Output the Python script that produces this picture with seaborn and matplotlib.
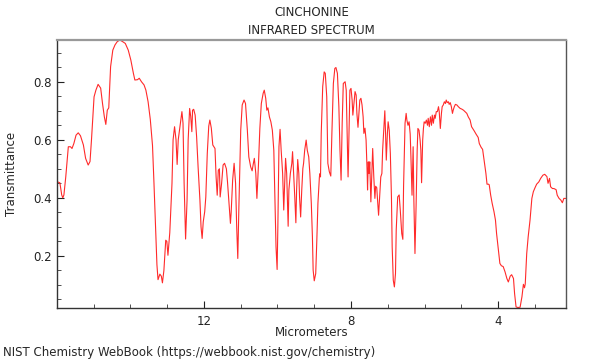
import matplotlib
matplotlib.use("Agg")
import matplotlib.pyplot as plt
from matplotlib.ticker import MultipleLocator, FixedLocator
import seaborn as sns
import pandas as pd

sns.set_style("ticks")
plt.rcParams['font.family'] = ['DejaVu Sans']

title_lines = ["CINCHONINE", "INFRARED SPECTRUM"]
x_label = "Micrometers"
y_label = "Transmittance"
footer = "NIST Chemistry WebBook (https://webbook.nist.gov/chemistry)"

micrometers = [
    15.99, 15.92, 15.87, 15.84, 15.81, 15.76, 15.69, 15.63, 15.59, 15.54,
    15.48, 15.42, 15.36, 15.28, 15.22, 15.15, 15.10, 15.06, 14.99, 14.94,
    14.88, 14.81, 14.76, 14.71, 14.67, 14.63, 14.59, 14.54, 14.48, 14.42,
    14.36, 14.29, 14.21, 14.14, 14.06, 13.99, 13.92, 13.88, 13.81, 13.76,
    13.70, 13.63, 13.58, 13.52, 13.46, 13.40, 13.36, 13.32, 13.28, 13.25,
    13.20, 13.16, 13.13, 13.09, 13.04, 13.01, 12.98, 12.93, 12.87, 12.84,
    12.80, 12.76, 12.73, 12.70, 12.66, 12.63, 12.60, 12.57, 12.54, 12.50,
    12.46, 12.43, 12.39, 12.36, 12.33, 12.31, 12.28, 12.24, 12.20, 12.16,
    12.11, 12.08, 12.05, 12.02, 11.98, 11.95, 11.91, 11.87, 11.84, 11.80,
    11.76, 11.70, 11.67, 11.64, 11.61, 11.58, 11.56, 11.52, 11.48, 11.44,
    11.39, 11.36, 11.32, 11.28, 11.26, 11.22, 11.18, 11.14, 11.11, 11.08,
    11.05, 11.00, 10.96, 10.91, 10.87, 10.82, 10.78, 10.73, 10.69, 10.66,
    10.63, 10.59, 10.56, 10.52, 10.48, 10.44, 10.39, 10.36, 10.32, 10.29,
    10.26, 10.22, 10.18, 10.14, 10.10, 10.07, 10.04, 10.01, 9.99, 9.96,
    9.93, 9.90, 9.86, 9.83, 9.80, 9.78, 9.75, 9.71, 9.69, 9.65,
    9.61, 9.59, 9.56, 9.53, 9.50, 9.48, 9.45, 9.42, 9.40, 9.37,
    9.34, 9.31, 9.29, 9.26, 9.22, 9.19, 9.15, 9.12, 9.08, 9.05,
    9.03, 9.00, 8.96, 8.93, 8.90, 8.86, 8.84, 8.83, 8.81, 8.77,
    8.73, 8.70, 8.66, 8.63, 8.59, 8.55, 8.52, 8.48, 8.44, 8.41,
    8.37, 8.33, 8.30, 8.27, 8.24, 8.21, 8.16, 8.13, 8.10, 8.08,
    8.05, 8.03, 8.00, 7.97, 7.95, 7.92, 7.89, 7.86, 7.84, 7.81,
    7.78, 7.76, 7.73, 7.70, 7.67, 7.65, 7.62, 7.59, 7.56, 7.55,
    7.53, 7.51, 7.49, 7.46, 7.44, 7.41, 7.38, 7.35, 7.33, 7.30,
    7.27, 7.25, 7.22, 7.19, 7.16, 7.14, 7.11, 7.08, 7.06, 7.04,
    7.01, 6.99, 6.96, 6.93, 6.90, 6.88, 6.85, 6.82, 6.79, 6.77,
    6.73, 6.69, 6.66, 6.62, 6.59, 6.57, 6.53, 6.50, 6.48, 6.45,
    6.42, 6.39, 6.37, 6.34, 6.31, 6.29, 6.26, 6.23, 6.20, 6.18,
    6.15, 6.12, 6.10, 6.08, 6.05, 6.03, 6.01, 5.98, 5.95, 5.92,
    5.90, 5.87, 5.84, 5.81, 5.79, 5.76, 5.73, 5.71, 5.68, 5.65,
    5.62, 5.60, 5.57, 5.54, 5.52, 5.49, 5.46, 5.43, 5.41, 5.38,
    5.35, 5.33, 5.30, 5.27, 5.24, 5.22, 5.19, 5.16, 5.12, 5.08,
    5.03, 4.99, 4.94, 4.90, 4.85, 4.81, 4.76, 4.72, 4.65, 4.60,
    4.54, 4.51, 4.46, 4.42, 4.38, 4.33, 4.30, 4.26, 4.24, 4.20,
    4.16, 4.11, 4.07, 4.04, 3.99, 3.95, 3.91, 3.86, 3.81, 3.76,
    3.72, 3.67, 3.63, 3.58, 3.55, 3.51, 3.46, 3.40, 3.35, 3.31,
    3.28, 3.26, 3.22, 3.18, 3.13, 3.08, 3.04, 2.99, 2.95, 2.89,
    2.84, 2.78, 2.73, 2.67, 2.64, 2.60, 2.57, 2.52, 2.48, 2.42,
    2.39, 2.34, 2.29, 2.25, 2.21, 2.16,
]

transmittance = [
    0.455, 0.452, 0.410, 0.400, 0.410, 0.472, 0.576, 0.576, 0.570, 0.587,
    0.616, 0.624, 0.614, 0.582, 0.536, 0.513, 0.525, 0.600, 0.748, 0.771,
    0.791, 0.778, 0.725, 0.679, 0.653, 0.702, 0.710, 0.852, 0.909, 0.927,
    0.938, 0.944, 0.938, 0.932, 0.909, 0.875, 0.829, 0.806, 0.807, 0.812,
    0.800, 0.789, 0.771, 0.731, 0.670, 0.580, 0.450, 0.310, 0.170, 0.118,
    0.137, 0.130, 0.107, 0.150, 0.254, 0.250, 0.202, 0.280, 0.450, 0.600,
    0.645, 0.600, 0.515, 0.600, 0.639, 0.668, 0.697, 0.657, 0.450, 0.258,
    0.392, 0.600, 0.708, 0.680, 0.628, 0.702, 0.705, 0.685, 0.610, 0.507,
    0.392, 0.300, 0.260, 0.317, 0.352, 0.403, 0.553, 0.647, 0.668, 0.640,
    0.582, 0.570, 0.472, 0.409, 0.495, 0.500, 0.403, 0.450, 0.513, 0.519,
    0.500, 0.455, 0.381, 0.312, 0.350, 0.461, 0.519, 0.450, 0.300, 0.191,
    0.369, 0.633, 0.720, 0.737, 0.725, 0.633, 0.541, 0.507, 0.493, 0.516,
    0.536, 0.484, 0.398, 0.507, 0.639, 0.725, 0.760, 0.771, 0.743, 0.702,
    0.710, 0.679, 0.662, 0.633, 0.564, 0.403, 0.231, 0.153, 0.300, 0.576,
    0.636, 0.564, 0.484, 0.358, 0.461, 0.536, 0.484, 0.302, 0.427, 0.484,
    0.519, 0.559, 0.484, 0.403, 0.314, 0.427, 0.532, 0.484, 0.403, 0.334,
    0.427, 0.501, 0.519, 0.564, 0.599, 0.564, 0.541, 0.484, 0.381, 0.266,
    0.151, 0.114, 0.139, 0.254, 0.381, 0.472, 0.484, 0.472, 0.622, 0.783,
    0.834, 0.829, 0.748, 0.519, 0.490, 0.475, 0.622, 0.794, 0.846, 0.849,
    0.829, 0.714, 0.564, 0.461, 0.657, 0.794, 0.800, 0.771, 0.599, 0.472,
    0.645, 0.771, 0.777, 0.737, 0.685, 0.725, 0.766, 0.754, 0.691, 0.643,
    0.702, 0.737, 0.743, 0.720, 0.679, 0.622, 0.640, 0.599, 0.484, 0.427,
    0.524, 0.484, 0.524, 0.386, 0.461, 0.570, 0.472, 0.398, 0.440, 0.435,
    0.381, 0.340, 0.403, 0.472, 0.484, 0.564, 0.633, 0.700, 0.622, 0.530,
    0.622, 0.662, 0.633, 0.553, 0.403, 0.231, 0.116, 0.093, 0.139, 0.289,
    0.403, 0.410, 0.358, 0.277, 0.257, 0.440, 0.657, 0.691, 0.668, 0.650,
    0.662, 0.620, 0.541, 0.409, 0.576, 0.392, 0.208, 0.369, 0.564, 0.639,
    0.633, 0.599, 0.564, 0.452, 0.599, 0.639, 0.662, 0.657, 0.668, 0.650,
    0.674, 0.645, 0.679, 0.650, 0.685, 0.657, 0.685, 0.674, 0.697, 0.697,
    0.714, 0.697, 0.639, 0.691, 0.714, 0.720, 0.731, 0.725, 0.737, 0.728,
    0.731, 0.722, 0.728, 0.714, 0.691, 0.702, 0.714, 0.722, 0.720, 0.714,
    0.708, 0.706, 0.702, 0.697, 0.691, 0.679, 0.668, 0.645, 0.631, 0.620,
    0.608, 0.587, 0.574, 0.567, 0.530, 0.484, 0.447, 0.447, 0.445, 0.409,
    0.381, 0.352, 0.323, 0.277, 0.220, 0.174, 0.166, 0.163, 0.145, 0.122,
    0.110, 0.130, 0.135, 0.122, 0.070, 0.024, 0.022, 0.023, 0.059, 0.102,
    0.090, 0.103, 0.208, 0.266, 0.323, 0.398, 0.421, 0.436, 0.447, 0.455,
    0.467, 0.478, 0.481, 0.473, 0.450, 0.467, 0.438, 0.432, 0.432, 0.428,
    0.409, 0.398, 0.392, 0.383, 0.398, 0.398,
]

x_major = [12, 8, 4]
y_major = [0.2, 0.4, 0.6, 0.8]

df = pd.DataFrame({"um": micrometers, "T": transmittance})

fig = plt.figure(figsize=(6, 3.6), dpi=100)
ax = fig.add_axes([0.0955, 0.145, 0.8473, 0.744])

sns.lineplot(data=df, x="um", y="T", ax=ax, sort=False, estimator=None,
             color="#ff2a2a", linewidth=0.8)

ax.set_xlim(15.99, 2.16)
ax.set_ylim(0.021, 0.944)

ax.xaxis.set_major_locator(FixedLocator(x_major))
ax.xaxis.set_minor_locator(MultipleLocator(1))
ax.yaxis.set_major_locator(FixedLocator(y_major))
ax.yaxis.set_minor_locator(MultipleLocator(0.05))
ax.set_xticklabels([str(v) for v in x_major])
ax.set_yticklabels([f"{v:.1f}" for v in y_major])

ax.tick_params(axis="both", which="major", direction="in", length=5, width=0.8,
               labelsize=8.5, colors="#222222", top=False, right=False)
ax.tick_params(axis="both", which="minor", direction="in", length=3, width=0.6,
               colors="#333333", top=False, right=False)
ax.tick_params(axis="x", which="major", pad=5)
ax.tick_params(axis="y", which="major", pad=4)

for side in ["left", "bottom", "right"]:
    ax.spines[side].set_color("#333333")
    ax.spines[side].set_linewidth(1.0)
ax.spines["top"].set_color("#999999")
ax.spines["top"].set_linewidth(1.6)
ax.spines["right"].set_color("#555555")

ax.set_xlabel(x_label, fontsize=8.5, labelpad=-1)
ax.set_ylabel(y_label, fontsize=8.5, labelpad=11)

fig.text(0.519, 0.965, title_lines[0], ha="center", va="center", fontsize=8.5)
fig.text(0.519, 0.915, title_lines[1], ha="center", va="center", fontsize=8.5)
fig.text(0.005, 0.022, footer, ha="left", va="center", fontsize=8.5)

fig.savefig("out.png", dpi=100)
